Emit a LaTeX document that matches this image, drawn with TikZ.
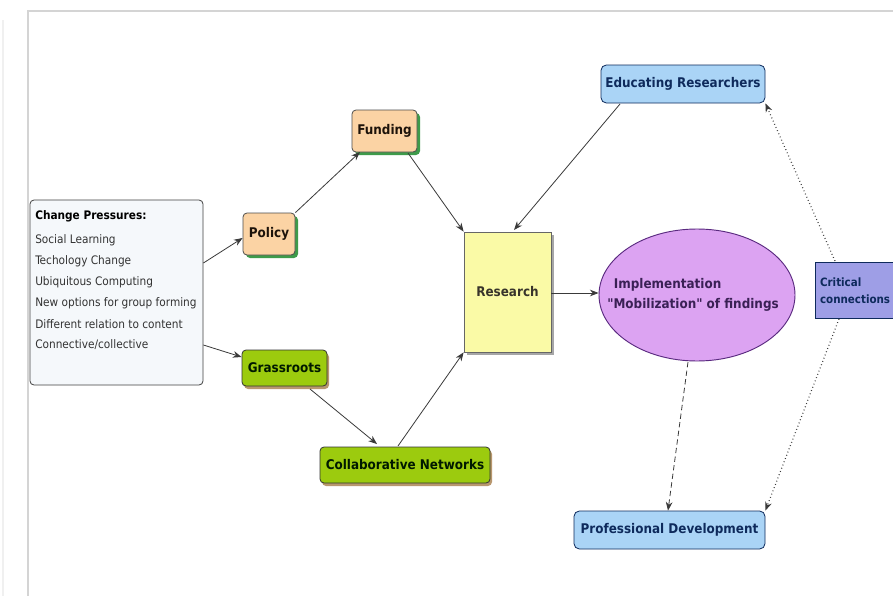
\documentclass[tikz,border=0pt]{standalone}
\usepackage{fontspec}
\setmainfont{DejaVu Sans Condensed}[Ligatures=TeXOff]
\usetikzlibrary{shapes.geometric,arrows.meta}
\definecolor{frameg}{HTML}{D4D4D4}
\definecolor{lineg}{HTML}{3A3A3A}
\definecolor{orangefill}{HTML}{FBD3A4}
\definecolor{greenshadow}{HTML}{3E9B4A}
\definecolor{limefill}{HTML}{9CCB0E}
\definecolor{limeshadow}{HTML}{9A6A30}
\definecolor{yellowfill}{HTML}{FAFAA6}
\definecolor{lavfill}{HTML}{DCA3F2}
\definecolor{lavdraw}{HTML}{5A2A80}
\definecolor{bluefill}{HTML}{AAD4F6}
\definecolor{navy}{HTML}{0E2A5C}
\definecolor{critfill}{HTML}{9E9EE6}
\definecolor{pressfill}{HTML}{F5F8FB}
\tikzset{
  px/.style={x=0.75pt,y=-0.75pt},
  conn/.style={draw=lineg,line width=0.6pt,-{Stealth[length=6.5pt,width=5pt]}},
  dashconn/.style={conn,dashed,dash pattern=on 4pt off 2.5pt},
  dotconn/.style={conn,dotted,line width=0.9pt},
  label/.style={font=\bfseries\fontsize{10}{12}\selectfont,inner sep=0pt},
  orangebox/.style={label,rounded corners=3pt,draw=black!70,fill=orangefill,text=black!85!brown,
     line width=0.6pt},
  limebox/.style={label,rounded corners=3pt,draw=black!80,fill=limefill,text=black!90!green,
     line width=0.6pt},
  bluebox/.style={label,rounded corners=4pt,draw=navy,fill=bluefill,text=navy,line width=0.6pt},
}
\begin{document}
\begin{tikzpicture}[px]
\clip (0,0) rectangle (893,596);
\fill[white] (0,0) rectangle (893,596);
% page frame
\draw[frameg,line width=1.5pt] (28,596) -- (28,11) -- (893,11);
\draw[black!6,line width=1pt] (3,20) -- (3,596);

% change pressures list
\node[draw=black!75,fill=pressfill,rounded corners=3pt,line width=0.6pt,
      minimum width=129.75pt,minimum height=138.75pt,inner sep=0pt] (press) at (116.5,292.5) {};
\node[anchor=west,label,font=\bfseries\fontsize{8.8}{10}\selectfont] (ph) at (35,216) {Change Pressures:};
\foreach \t [count=\i] in {Social Learning,Techology Change,Ubiquitous Computing,New options for group forming,Different relation to content,Connective/collective}
  \node[anchor=west,inner sep=0pt,font=\fontsize{8.8}{10}\selectfont,text=black!80] (p\i) at (35,{219+21*\i}) {\t};

% policy and funding with green shadows
\fill[greenshadow,rounded corners=3pt] (246,216) rectangle (298,258);
\node[orangebox,minimum width=39pt,minimum height=31.5pt] (policy) at (269,234) {Policy};
\fill[greenshadow,rounded corners=3pt] (355,113) rectangle (420,155);
\node[orangebox,minimum width=48.75pt,minimum height=31.5pt] (funding) at (384.5,131) {Funding};

% grassroots and networks
\fill[limeshadow!70,rounded corners=3pt] (244,353) rectangle (329,389);
\node[limebox,minimum width=63.75pt,minimum height=27pt] (grass) at (284.5,368) {Grassroots};
\fill[limeshadow!70,rounded corners=3pt] (322,450) rectangle (492,486);
\node[limebox,minimum width=127.5pt,minimum height=27pt] (collab) at (405,465) {Collaborative Networks};

% research
\fill[black!35] (467,235) rectangle (554,355);
\node[label,draw=black!60,fill=yellowfill,text=black!80!olive,line width=0.6pt,
      minimum width=65.25pt,minimum height=90pt] (research) at (507.5,292) {Research};

% implementation
\node[ellipse,draw=lavdraw,fill=lavfill,line width=0.7pt,minimum width=147pt,minimum height=99pt,inner sep=0pt] (impl) at (697,295) {};
\node[label,anchor=west,align=left,text=navy!75!purple] (impltxt) at (607,294.5)
  {\hspace*{5pt}Implementation\\[3pt]"Mobilization" of findings};

% blue boxes
\node[bluebox,minimum width=123pt,minimum height=28.5pt] (edu) at (683,84) {Educating Researchers};
\node[bluebox,minimum width=143.25pt,minimum height=28.5pt] (prof) at (669.5,530) {Professional Development};
\node[label,font=\bfseries\fontsize{8.6}{10.5}\selectfont,draw=navy,fill=critfill,text=navy,line width=0.6pt,anchor=north west,
      minimum width=75pt,minimum height=42pt,align=left,text width=68pt,inner sep=1.5pt] (crit) at (815,262)
  {Critical\\[2pt]connections};

% connectors
\draw[conn] (press.east|-0,263) -- (policy.west|-0,238);
\draw[conn] (press.east|-0,345) -- (grass.west|-0,357);
\draw[conn] (policy.north east) -- (360,152);
\draw[conn] (408,153) -- (research.north west);
\draw[conn] (620,104) -- (514,230);
\draw[conn] (310,389) -- (377,444);
\draw[conn] (398,446) -- (research.south west);
\draw[conn] (research.east|-0,293) -- (impl.west|-0,293);
\draw[dashconn] (688,362) -- (prof.north west-|668,0);
\draw[dotconn] (839,319) -- (prof.north east);
\draw[dotconn] (835,261) -- (edu.south east);
\end{tikzpicture}
\end{document}
